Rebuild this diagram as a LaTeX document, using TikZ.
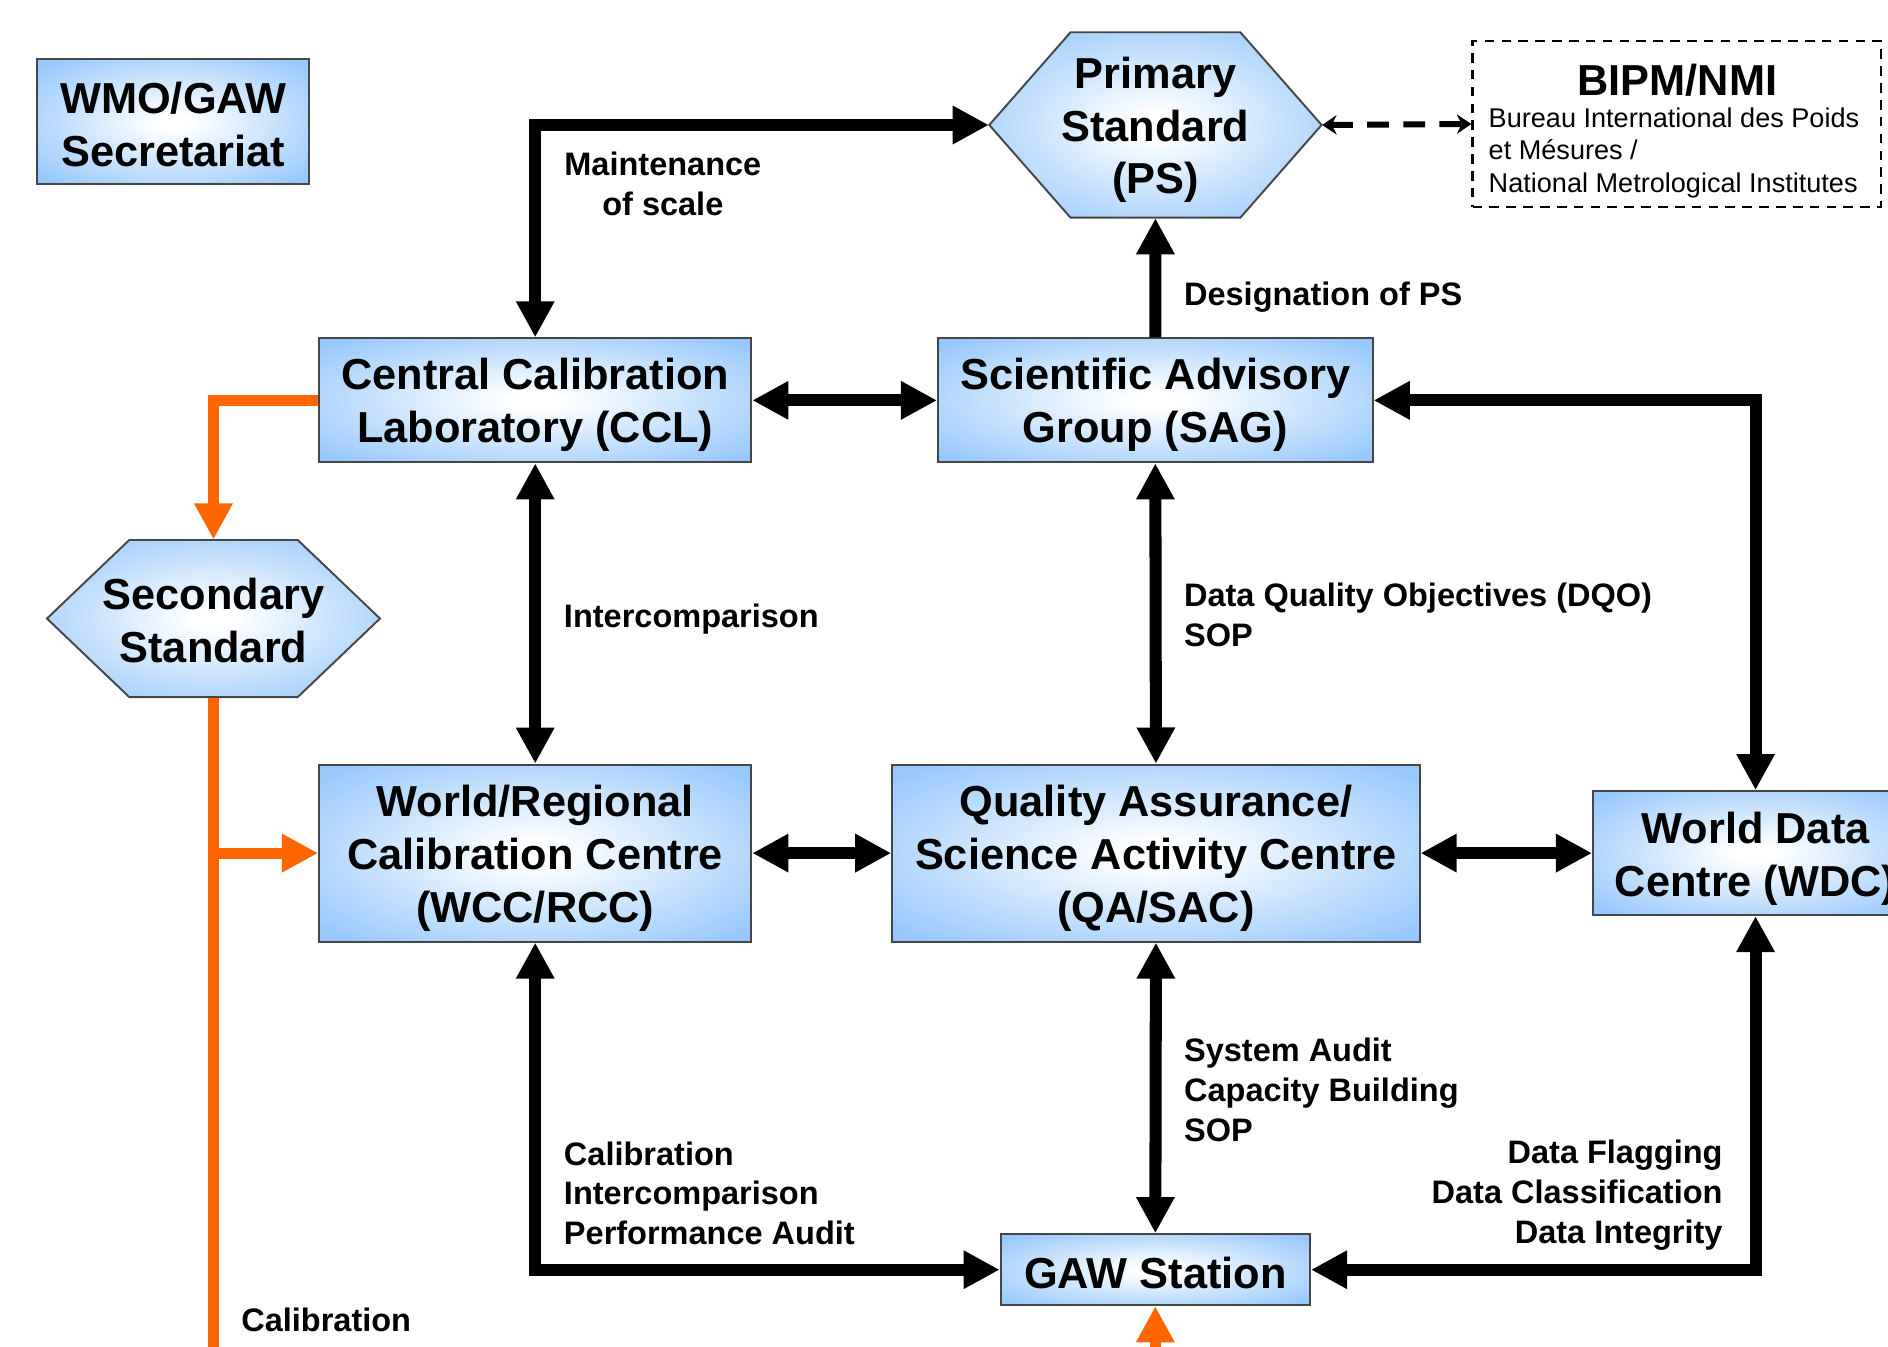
\documentclass[tikz,border=0pt]{standalone}
\usepackage{fontspec}
\setmainfont{Liberation Sans}
\usetikzlibrary{arrows.meta,calc}
\definecolor{boxblue}{RGB}{150,200,252}
\definecolor{boxline}{RGB}{70,70,70}
\definecolor{orng}{RGB}{255,102,0}
\pgfdeclareradialshading{boxshade}{\pgfpoint{0bp}{0bp}}{color(0bp)=(white); color(3bp)=(white); color(33bp)=(boxblue); color(80bp)=(boxblue)}
\newcommand{\hexshape}[5]{%
  \path[draw=boxline, line width=0.8pt, shade, shading=boxshade]
    (#1-#3,#2) -- (#1-#3+#5,#2-#4) -- (#1+#3-#5,#2-#4) -- (#1+#3,#2)
    -- (#1+#3-#5,#2+#4) -- (#1-#3+#5,#2+#4) -- cycle;}
\tikzset{
  box/.style={draw=boxline, line width=0.8pt, shade, shading=boxshade, inner sep=0pt},
  hexbox/.style={inner sep=0pt},
  boxtext/.style={inner sep=0pt, align=center, font=\bfseries\fontsize{18}{22}\selectfont, yshift=#1},
  boxtext/.default=-2pt,
  lbl/.style={inner sep=0pt, font=\bfseries\fontsize{13.5}{16.5}\selectfont},
  conn/.style={line width=5pt, black, >={Triangle[width=15pt,length=15pt]}},
  org/.style={line width=4.5pt, orng, >={Triangle[width=15pt,length=15pt]}},
  dashconn/.style={line width=2.5pt, black, dash pattern=on 9pt off 6pt,
    {Stealth[width=8pt,length=6pt]}-{Stealth[width=8pt,length=6pt]}},
}
\begin{document}
\begin{tikzpicture}[x=0.5pt,y=-0.5pt]
\useasboundingbox (0,0) rectangle (1568,1118);
\clip (0,0) rectangle (1568,1118);
\fill[white] (0,0) rectangle (1568,1118);

% boxes
\node[box, minimum width=113pt, minimum height=52pt,
  label={[boxtext=-1pt]center:{WMO/GAW\\Secretariat}}] (wmo) at (144,101) {};
\node[box, minimum width=179.5pt, minimum height=51.5pt,
  label={[boxtext]center:{Central Calibration\\Laboratory (CCL)}}] (ccl) at (444.5,332.5) {};
\node[box, minimum width=180.5pt, minimum height=51.5pt,
  label={[boxtext]center:{Scientific Advisory\\Group (SAG)}}] (sag) at (959.5,332.5) {};
\node[box, minimum width=179.5pt, minimum height=73.5pt,
  label={[boxtext]center:{World/Regional\\Calibration Centre\\(WCC/RCC)}}] (wcc) at (444.5,708.5) {};
\node[box, minimum width=219pt, minimum height=73.5pt,
  label={[boxtext]center:{Quality Assurance/\\Science Activity Centre\\(QA/SAC)}}] (qa) at (960,708.5) {};
\node[box, minimum width=135pt, minimum height=51.5pt,
  label={[boxtext=-2.5pt]center:{World Data\\Centre (WDC)}}] (wdc) at (1458,708.5) {};
\node[box, minimum width=128.5pt, minimum height=29.5pt,
  label={[boxtext=-1.2pt]center:{GAW Station}}] (gaw) at (959.5,1054.5) {};

% hexagons
\hexshape{959.6}{103.8}{138}{77}{67.5}
\node[hexbox, minimum width=138pt, minimum height=77pt,
  label={[boxtext]center:{Primary\\Standard\\(PS)}}] (ps) at (959.6,103.8) {};
\hexshape{177.3}{513.7}{138.3}{65.2}{68.3}
\node[hexbox, minimum width=138.3pt, minimum height=65.2pt,
  label={[boxtext=-1pt]center:{Secondary\\Standard}}] (sec) at (177.3,513.7) {};

% BIPM
\node[draw, line width=1pt, dash pattern=on 4pt off 3pt, minimum width=169.5pt, minimum height=69pt, inner sep=0pt] (bipm) at (1392.5,103) {};
\node[inner sep=0pt, font=\bfseries\fontsize{18}{22}\selectfont] (bipmt) at (1393,66.5) {BIPM/NMI};
\node[inner sep=0pt, anchor=west, align=left, font=\fontsize{11.25}{13.5}\selectfont] (bipms) at (1236,127) {Bureau International des Poids\\et Mésures /\\National Metrological Institutes};

% black connectors
\draw[conn, <->] (ps.west) -| (ccl.north);
\draw[conn, ->] (sag.north) -- (ps.south);
\draw[conn, <->] (ccl.east) -- (sag.west);
\draw[conn, <->] (sag.east) -| (wdc.north);
\draw[conn, <->] (ccl.south) -- (wcc.north);
\draw[conn, <->] (sag.south) -- (qa.north);
\draw[conn, <->] (wcc.east) -- (qa.west);
\draw[conn, <->] (qa.east) -- (wdc.west);
\draw[conn, <->] (qa.south) -- (gaw.north);
\draw[conn, <->] (wcc.south) |- (gaw.west);
\draw[conn, <->] (wdc.south) |- (gaw.east);
\draw[dashconn] (ps.east) -- (bipm.west);

% orange connectors
\draw[org, ->] (ccl.west) -| (sec.north);
\coordinate (obot) at (177.3,1150);
\coordinate (obr) at (sec.south |- wcc.west);
\draw[org] (sec.south) -- (obot);
\draw[org, ->] (obr) -- (wcc.west);
\coordinate (gbot) at (959.5,1150);
\draw[org, ->] (gbot) -- (gaw.south);

% labels
\node[lbl, align=center] (lmaint) at (550.5,152.5) {Maintenance\\of scale};
\node[lbl, anchor=west] (ldes) at (983,247) {Designation of PS};
\node[lbl, anchor=west] (linter) at (468,514) {Intercomparison};
\node[lbl, anchor=west, align=left] (ldqo) at (983,510.5) {Data Quality Objectives (DQO)\\SOP};
\node[lbl, anchor=west, align=left] (lsys) at (983,905) {System Audit\\Capacity Building\\SOP};
\node[lbl, anchor=west, align=left] (lcal) at (468,991) {Calibration\\Intercomparison\\Performance Audit};
\node[lbl, anchor=east, align=right] (ldata) at (1431,992.5) {Data Flagging\\Data Classification\\Data Integrity};
\node[lbl, anchor=west] (lcal2) at (200,1096) {Calibration};
\end{tikzpicture}
\end{document}
